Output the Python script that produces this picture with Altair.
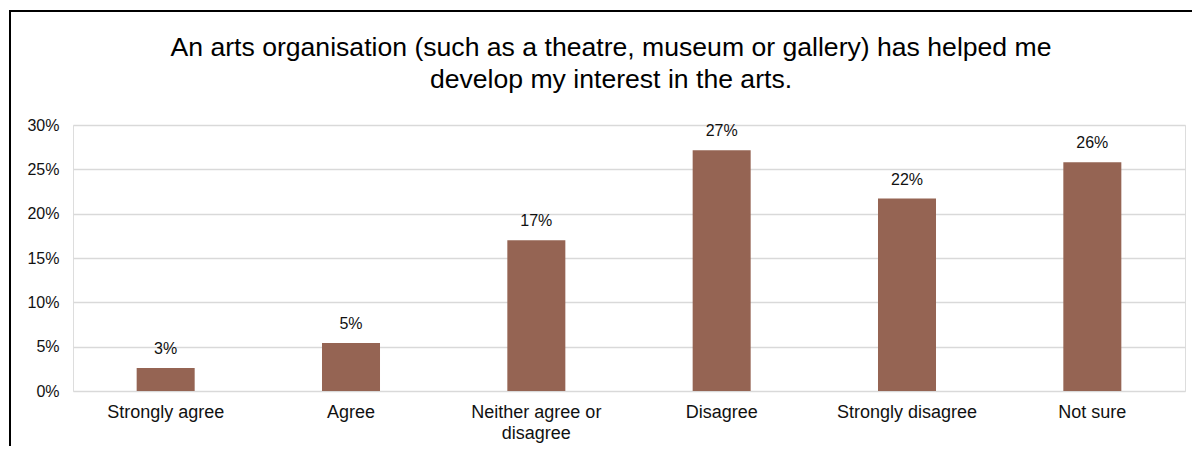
import altair as alt
import pandas as pd

categories = ["Strongly agree", "Agree", "Neither agree or disagree", "Disagree", "Strongly disagree", "Not sure"]
shares = [0.026, 0.054, 0.170, 0.2715, 0.217, 0.258]
title_lines = ["An arts organisation (such as a theatre, museum or gallery) has helped me",
               "develop my interest in the arts."]
y_ticks = [0, 0.05, 0.10, 0.15, 0.20, 0.25, 0.30]

df = pd.DataFrame({"category": categories, "share": shares})
FONT = "Liberation Sans"
BAR = "#956453"

x_enc = alt.X("category:N", sort=categories, title=None,
              scale=alt.Scale(paddingInner=0.687, paddingOuter=0.3435),
              axis=alt.Axis(labelAngle=0, ticks=False, domain=False, labelPadding=12,
                            labelFont=FONT, labelFontSize=18, labelColor="#111",
                            labelLineHeight=21, labelLimit=300,
                            labelExpr="datum.label == 'Neither agree or disagree' ? ['Neither agree or', 'disagree'] : datum.label"))
y_enc = alt.Y("share:Q", title=None,
              scale=alt.Scale(domain=[0, 0.30], nice=False),
              axis=alt.Axis(values=y_ticks, format=".0%", ticks=False, domain=False,
                            labelPadding=14, labelFont=FONT, labelFontSize=16, labelColor="#111",
                            grid=True, gridColor="#d9d9d9", gridWidth=1.5))

bars = alt.Chart(df).mark_bar(color=BAR).encode(x=x_enc, y=y_enc)
labels = alt.Chart(df).mark_text(font=FONT, fontSize=16, color="#111", baseline="alphabetic", dy=-14).encode(
    x=alt.X("category:N", sort=categories),
    y=alt.Y("share:Q"),
    text=alt.Text("share:Q", format=".0%"),
)

one_row = pd.DataFrame({"k": [0]})
title_mark = alt.Chart(one_row).mark_text(
    font=FONT, fontSize=26.6, color="#000", align="center", baseline="alphabetic", lineHeight=32
).encode(x=alt.value(538), y=alt.value(-69), text=alt.value(title_lines))

frame_v = alt.Chart(one_row).mark_rule(color="#000", strokeWidth=2).encode(
    x=alt.value(-63), y=alt.value(-114), y2=alt.value(400))
frame_h = alt.Chart(one_row).mark_rule(color="#000", strokeWidth=2).encode(
    x=alt.value(-64), x2=alt.value(1200), y=alt.value(-114))

chart = alt.layer(bars, labels, title_mark, frame_v, frame_h).properties(
    width=1112, height=266,
    autosize=alt.AutoSizeParams(type="none"),
    padding={"left": 65, "top": 117, "right": 7, "bottom": 55},
).configure_view(stroke=None).configure(background="white")

chart.save("out.html", embed_options={"renderer": "svg", "actions": False})
